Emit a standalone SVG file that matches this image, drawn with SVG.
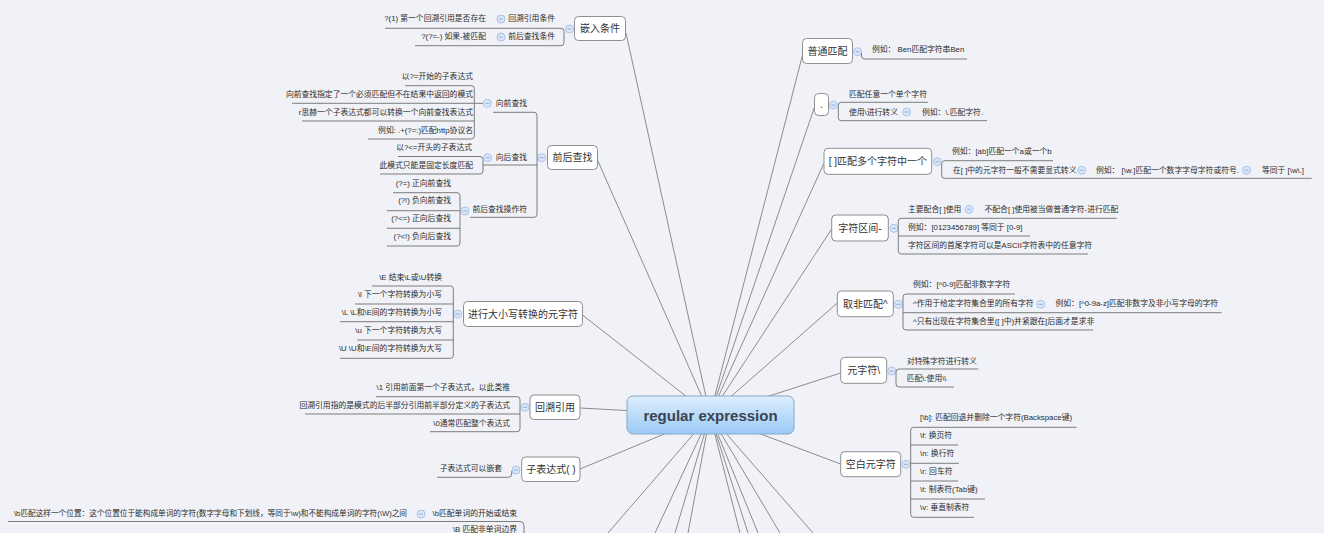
<svg xmlns="http://www.w3.org/2000/svg" width="1324" height="533" viewBox="0 0 1324 533">
<style>
text { font-family: "Liberation Sans","Noto Sans CJK SC",sans-serif; }
.t1 { font-size:10px; fill:#333; text-anchor:middle; }
.t2 { font-size:7.8px; fill:#2b2b2b; }
.r { text-anchor:end; }
.box { fill:#fff; stroke:#8f8f8f; stroke-width:1; }
.ln { fill:none; stroke:#7d7d7d; stroke-width:1; }
#connectors line { stroke:#8c8c8c; stroke-width:1; }
.ccc { fill:#dbe7f8; stroke:#a9c3e8; stroke-width:1; }
.ccm { stroke:#8eaedc; stroke-width:1; }
</style>
<defs>
<linearGradient id="cg" x1="0" y1="0" x2="0" y2="1">
<stop offset="0" stop-color="#ddeefd"/>
<stop offset="1" stop-color="#9bcaf6"/>
</linearGradient>
<g id="cc"><circle class="ccc" r="4"/><line class="ccm" x1="-2" y1="0" x2="2" y2="0"/></g>
</defs>
<rect width="1324" height="533" fill="#f1f2f7"/>
<g id="connectors">
<line x1="626" y1="33" x2="710" y2="415"/>
<line x1="597.5" y1="160" x2="710" y2="415"/>
<line x1="582.5" y1="315" x2="710" y2="415"/>
<line x1="580" y1="408" x2="710" y2="415"/>
<line x1="580" y1="469" x2="710" y2="415"/>
<line x1="802.5" y1="55" x2="710" y2="415"/>
<line x1="814.5" y1="107" x2="710" y2="415"/>
<line x1="824" y1="163" x2="710" y2="415"/>
<line x1="831.7" y1="229" x2="710" y2="415"/>
<line x1="837.3" y1="303" x2="710" y2="415"/>
<line x1="840.7" y1="373" x2="710" y2="415"/>
<line x1="840.7" y1="464" x2="710" y2="415"/>
<line x1="710" y1="415" x2="608" y2="533"/>
<line x1="710" y1="415" x2="655" y2="533"/>
<line x1="710" y1="415" x2="675" y2="533"/>
<line x1="710" y1="415" x2="688" y2="533"/>
<line x1="710" y1="415" x2="740" y2="533"/>
<line x1="710" y1="415" x2="748" y2="533"/>
<line x1="710" y1="415" x2="758" y2="533"/>
<line x1="710" y1="415" x2="780" y2="533"/>
<line x1="710" y1="415" x2="813" y2="533"/>
</g>
<g id="root">
<rect x="627" y="396" width="167" height="38" rx="6" fill="url(#cg)" stroke="#88a7c6"/>
<text x="710.5" y="420.5" text-anchor="middle" style="font-size:15px;font-weight:bold;fill:#3c4350">regular expression</text>
</g>
<g id="n-qianru">
<rect class="box" x="574.5" y="16.5" width="51" height="24" rx="4"/>
<text class="t1" x="600" y="32.1">嵌入条件</text>
<path class="ln" d="M385,28.3 H561 Q564,28.3 564,31.3 V42.7 Q564,45.7 561,45.7 H415"/>
<use href="#cc" x="569.5" y="29"/>
<text class="t2 r" x="555" y="21.3">回溯引用条件</text>
<use href="#cc" x="501" y="19"/>
<text class="t2 r" x="486" y="21.3">?(1) 第一个回溯引用是否存在</text>
<text class="t2 r" x="555" y="38.8">前后查找条件</text>
<use href="#cc" x="501" y="37"/>
<text class="t2 r" x="486" y="38.8">?(?=-) 如果-被匹配</text>
</g>
<g id="n-qianhou">
<rect class="box" x="547.5" y="145.5" width="50" height="24" rx="4"/>
<text class="t1" x="572.5" y="161.1">前后查找</text>
<use href="#cc" x="541.7" y="157.7"/>
<path class="ln" d="M493,112.3 H534 Q537,112.3 537,115.3 V214.3 Q537,217.3 534,217.3 H470"/>
<path class="ln" d="M483,165 H537"/>
<text class="t2 r" x="527" y="105.8">向前查找</text>
<use href="#cc" x="487.3" y="103.3"/>
<path class="ln" d="M405,85.7 H471.3 Q474.3,85.7 474.3,88.7 V136 Q474.3,139 471.3,139 H368"/>
<path class="ln" d="M292,103.3 H483"/>
<path class="ln" d="M302,121 H474.3"/>
<text class="t2 r" x="473" y="78.5">以?=开始的子表达式</text>
<text class="t2 r" x="473" y="96.8">向前查找指定了一个必须匹配但不在结果中返回的模式</text>
<text class="t2 r" x="473" y="114.8">r思赫一个子表达式都可以转换一个向前查找表达式</text>
<text class="t2 r" x="473" y="132.8">例如: .+(?=:)匹配http协议名</text>
<text class="t2 r" x="527" y="159.8">向后查找</text>
<use href="#cc" x="487.7" y="157.7"/>
<path class="ln" d="M398,156.5 H480 Q483,156.5 483,159.5 V171 Q483,174 480,174 H380"/>
<text class="t2 r" x="472" y="150.3">以?&lt;=开头的子表达式</text>
<text class="t2 r" x="473" y="167.8">此模式只能是固定长度匹配</text>
<text class="t2 r" x="527" y="212.3">前后查找操作符</text>
<use href="#cc" x="465" y="211"/>
<path class="ln" d="M393,192.7 H457 Q460,192.7 460,195.7 V243 Q460,246 457,246 H387"/>
<path class="ln" d="M387,210.7 H460"/>
<path class="ln" d="M387,228.3 H460"/>
<text class="t2 r" x="451" y="185.5">(?=) 正向前查找</text>
<text class="t2 r" x="451" y="202.8">(?!) 负向前查找</text>
<text class="t2 r" x="451" y="220.8">(?&lt;=) 正向后查找</text>
<text class="t2 r" x="451" y="238.8">(?&lt;!) 负向后查找</text>
</g>
<g id="n-daxiaoxie">
<rect class="box" x="463.5" y="301.5" width="119" height="25" rx="4"/>
<text class="t1" x="523" y="317.6">进行大小写转换的元字符</text>
<use href="#cc" x="457.7" y="314"/>
<path class="ln" d="M372,286 H450.3 Q453.3,286 453.3,289 V355.3 Q453.3,358.3 450.3,358.3 H340"/>
<path class="ln" d="M355,304 H453.3"/>
<path class="ln" d="M340,321.7 H453.3"/>
<path class="ln" d="M357,340 H453.3"/>
<text class="t2 r" x="442" y="279.5">\E 结束\L或\U转换</text>
<text class="t2 r" x="442" y="297.3">\l 下一个字符转换为小写</text>
<text class="t2 r" x="442" y="315.3">\L \L和\E间的字符转换为小写</text>
<text class="t2 r" x="442" y="332.8">\u 下一个字符转换为大写</text>
<text class="t2 r" x="442" y="350.8">\U \U和\E间的字符转换为大写</text>
</g>
<g id="n-huisu">
<rect class="box" x="530" y="395" width="50" height="24.5" rx="4"/>
<text class="t1" x="555" y="411.1">回溯引用</text>
<use href="#cc" x="525" y="407.3"/>
<path class="ln" d="M376,396.7 H517 Q520,396.7 520,399.7 V428.7 Q520,431.7 517,431.7 H430"/>
<path class="ln" d="M305,414 H520"/>
<text class="t2 r" x="510" y="389.5">\1 引用前面第一个子表达式，以此类推</text>
<text class="t2 r" x="510" y="407.8">回溯引用指的是模式的后半部分引用前半部分定义的子表达式</text>
<text class="t2 r" x="510" y="425.5">\0通常匹配整个表达式</text>
</g>
<g id="n-zibiaodashi">
<rect class="box" x="521.7" y="457" width="58.3" height="24.5" rx="4"/>
<text class="t1" x="551" y="473.1">子表达式( )</text>
<use href="#cc" x="516" y="470"/>
<path class="ln" d="M437,477.3 H508.5 Q511.7,477.3 511.7,474 V471"/>
<text class="t2 r" x="502" y="471.1">子表达式可以嵌套</text>
</g>
<g id="n-bianjie">
<path class="ln" d="M8,521.5 H520 Q524,521.5 524,525.5 V540"/>
<text class="t2 r" x="517" y="515.8">\b匹配单词的开始或结束</text>
<use href="#cc" x="421" y="514"/>
<text class="t2" x="14" y="515.8" textLength="393" lengthAdjust="spacingAndGlyphs">\b匹配这样一个位置：这个位置位于能构成单词的字符(数字字母和下划线，等同于\w)和不能构成单词的字符(\W)之间</text>
<text class="t2 r" x="517" y="532.3">\B 匹配非单词边界</text>
</g>
<g id="n-putong">
<rect class="box" x="802.5" y="38.5" width="50" height="25" rx="4"/>
<text class="t1" x="827.5" y="54.6">普通匹配</text>
<use href="#cc" x="857.7" y="51.7"/>
<path class="ln" d="M861.5,53 V56 Q861.5,59 864.5,59 H967"/>
<text class="t2" x="872" y="52.3">例如： Ben匹配字符串Ben</text>
</g>
<g id="n-dot">
<rect class="box" x="814.5" y="93.5" width="14" height="22" rx="4"/>
<text class="t1" x="821.5" y="108">.</text>
<use href="#cc" x="833.3" y="105"/>
<path class="ln" d="M928,102.3 H841.3 Q838.3,102.3 838.3,105.3 V117.7 Q838.3,120.7 841.3,120.7 H987"/>
<text class="t2" x="849" y="96.8">匹配任意一个单个字符</text>
<text class="t2" x="849" y="114.8">使用\进行转义</text>
<use href="#cc" x="906.7" y="112"/>
<text class="t2" x="922" y="114.8">例如：\.匹配字符.</text>
</g>
<g id="n-fangkuohao">
<rect class="box" x="824" y="148.3" width="107.7" height="26" rx="4"/>
<text class="t1" x="877.8" y="164.9">[ ]匹配多个字符中一个</text>
<use href="#cc" x="937.3" y="161.7"/>
<path class="ln" d="M1053,160.7 H944.7 Q941.7,160.7 941.7,163.7 V175.3 Q941.7,178.3 944.7,178.3 H1311.7"/>
<text class="t2" x="952" y="153.8">例如：[ab]匹配一个a或一个b</text>
<text class="t2" x="953" y="172.5">在[ ]中的元字符一般不需要显式转义</text>
<use href="#cc" x="1081.7" y="170.3"/>
<text class="t2" x="1096" y="172.5">例如： [\w.]匹配一个数字字母字符或符号.</text>
<use href="#cc" x="1246.7" y="170.3"/>
<text class="t2" x="1262" y="172.5">等同于 [\w\.]</text>
</g>
<g id="n-qujian">
<rect class="box" x="831.7" y="215" width="56.6" height="26" rx="4"/>
<text class="t1" x="860" y="231.6">字符区间-</text>
<use href="#cc" x="894" y="228.3"/>
<path class="ln" d="M1116.7,218.3 H901.3 Q898.3,218.3 898.3,221.3 V251 Q898.3,254 901.3,254 H1088"/>
<path class="ln" d="M898.3,236 H1030"/>
<text class="t2" x="908" y="212">主要配合[ ]使用</text>
<use href="#cc" x="969" y="209.3"/>
<text class="t2" x="984.5" y="212">不配合[ ]使用被当做普通字符-进行匹配</text>
<text class="t2" x="908" y="229.5">例如：[0123456789] 等同于 [0-9]</text>
<text class="t2" x="908" y="247.8">字符区间的首尾字符可以是ASCII字符表中的任意字符</text>
</g>
<g id="n-qufei">
<rect class="box" x="837.3" y="291" width="56" height="25.7" rx="4"/>
<text class="t1" x="865.3" y="307.6">取非匹配^</text>
<use href="#cc" x="898.3" y="304.3"/>
<path class="ln" d="M1015,294 H906 Q903,294 903,297 V327 Q903,330 906,330 H1093"/>
<path class="ln" d="M903,312.7 H1221.7"/>
<text class="t2" x="913" y="287.1">例如：[^0-9]匹配非数字字符</text>
<text class="t2" x="913" y="305.5">^作用于给定字符集合里的所有字符</text>
<use href="#cc" x="1040.7" y="304.3"/>
<text class="t2" x="1055.5" y="305.5">例如：[^0-9a-z]匹配非数字及非小写字母的字符</text>
<text class="t2" x="913" y="323.8">^只有出现在字符集合里([ ]中)并紧跟在[后面才是求非</text>
</g>
<g id="n-yuanzifu">
<rect class="box" x="840.7" y="357.3" width="46" height="26" rx="4"/>
<text class="t1" x="863.7" y="373.9">元字符\</text>
<use href="#cc" x="891.7" y="371"/>
<path class="ln" d="M978.3,369 H899 Q896,369 896,372 V384 Q896,387 899,387 H954"/>
<text class="t2" x="906.7" y="363.8">对特殊字符进行转义</text>
<text class="t2" x="906.7" y="381.1">匹配\:使用\\</text>
</g>
<g id="n-kongbai">
<rect class="box" x="840.7" y="451.7" width="60" height="25" rx="4"/>
<text class="t1" x="870.7" y="467.8">空白元字符</text>
<use href="#cc" x="906" y="464.3"/>
<path class="ln" d="M1076.7,427.3 H913.7 Q910.7,427.3 910.7,430.3 V514.3 Q910.7,517.3 913.7,517.3 H974"/>
<path class="ln" d="M910.7,445 H958"/>
<path class="ln" d="M910.7,463.3 H959"/>
<path class="ln" d="M910.7,481 H958"/>
<path class="ln" d="M910.7,499 H985"/>
<text class="t2" x="920" y="419.5">[\b]: 匹配回退并删除一个字符(Backspace键)</text>
<text class="t2" x="920" y="437.8">\f: 换页符</text>
<text class="t2" x="920" y="455.8">\n: 换行符</text>
<text class="t2" x="920" y="473.8">\r: 回车符</text>
<text class="t2" x="920" y="491.8">\t: 制表符(Tab键)</text>
<text class="t2" x="920" y="509.8">\v: 垂直制表符</text>
</g>
</svg>
